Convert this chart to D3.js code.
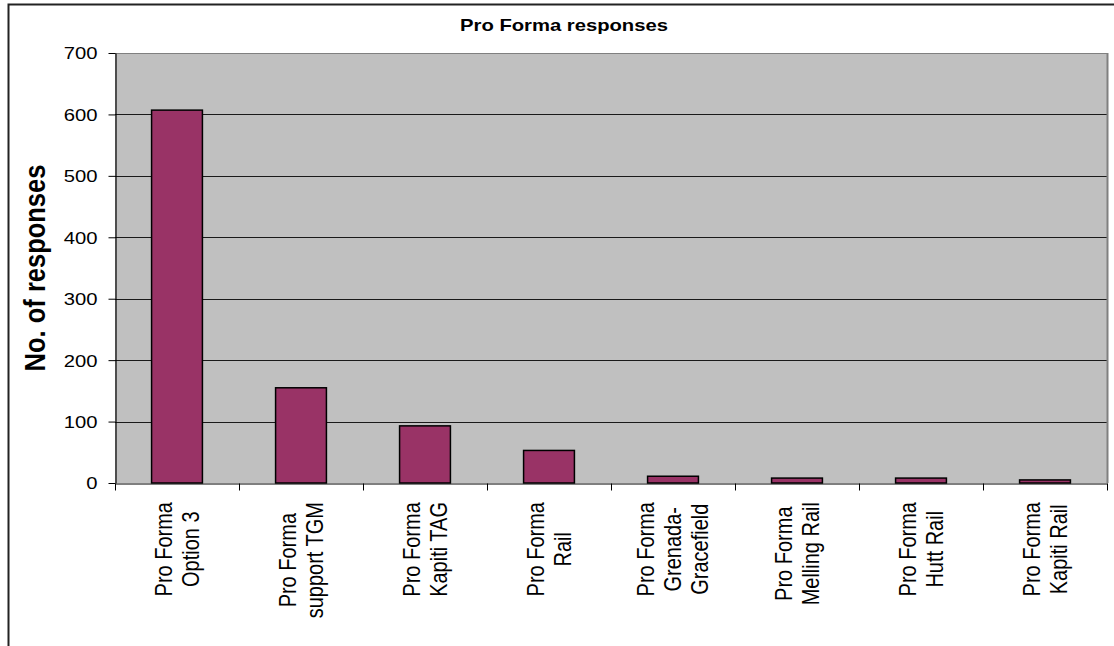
<!DOCTYPE html>
<html>
<head>
<meta charset="utf-8">
<script src="https://cdn.jsdelivr.net/npm/d3@7"></script>
<style>
  html, body { margin: 0; padding: 0; background: #ffffff; }
  svg { display: block; }
  text { font-family: "Liberation Sans", Arial, sans-serif; fill: #000; }
</style>
</head>
<body>
<svg id="chart" width="1114" height="646"></svg>
<script>
// Pro Forma submissions, counted by form type
const categories = [
  "Pro Forma Option 3",
  "Pro Forma support TGM",
  "Pro Forma Kapiti TAG",
  "Pro Forma Rail",
  "Pro Forma Grenada-Gracefield",
  "Pro Forma Melling Rail",
  "Pro Forma Hutt Rail",
  "Pro Forma Kapiti Rail"
];
const categoryLines = [
  ["Pro Forma", "Option 3"],
  ["Pro Forma", "support TGM"],
  ["Pro Forma", "Kapiti TAG"],
  ["Pro Forma", "Rail"],
  ["Pro Forma", "Grenada-", "Gracefield"],
  ["Pro Forma", "Melling Rail"],
  ["Pro Forma", "Hutt Rail"],
  ["Pro Forma", "Kapiti Rail"]
];
const responses = [607, 155, 93, 53, 11, 8, 8, 5];
const yTicks = [0, 100, 200, 300, 400, 500, 600, 700];
const chartTitle = "Pro Forma responses";
const yTitle = "No. of responses";

const svg = d3.select("#chart");
const plot = { left: 115, right: 1107, top: 53, bottom: 483 };
const sx = 1.19; // horizontal text stretch

// Outer chart frame (continues past the visible area)
svg.append("rect")
  .attr("x", 8.5).attr("y", 4.5)
  .attr("width", 1300).attr("height", 800)
  .attr("fill", "#fff")
  .attr("stroke", "#222").attr("stroke-width", 2);

const x = d3.scaleBand()
  .domain(categories)
  .range([plot.left, plot.right])
  .paddingInner(0.59)
  .paddingOuter(0.295);

const y = d3.scaleLinear().domain([0, 700]).range([plot.bottom, plot.top]);

// Plot area background
svg.append("rect")
  .attr("x", plot.left).attr("y", plot.top)
  .attr("width", plot.right - plot.left).attr("height", plot.bottom - plot.top)
  .attr("fill", "#c0c0c0");

// Horizontal gridlines
svg.append("g")
  .selectAll("line")
  .data(yTicks.filter(d => d > 0))
  .join("line")
  .attr("x1", plot.left).attr("x2", plot.right)
  .attr("y1", d => Math.round(y(d)) + 0.5).attr("y2", d => Math.round(y(d)) + 0.5)
  .attr("stroke", d => d === 700 ? "#808080" : "#1a1a1a")
  .attr("stroke-width", 1);

// Right border of the plot area
svg.append("line")
  .attr("x1", plot.right + 0.5).attr("x2", plot.right + 0.5)
  .attr("y1", plot.top).attr("y2", plot.bottom)
  .attr("stroke", "#808080").attr("stroke-width", 2);

// Bars
svg.append("g")
  .selectAll("rect")
  .data(categories.map((c, i) => ({ c, v: responses[i] })))
  .join("rect")
  .attr("x", d => x(d.c))
  .attr("y", d => y(d.v))
  .attr("width", x.bandwidth())
  .attr("height", d => y(0) - y(d.v))
  .attr("fill", "#993366")
  .attr("stroke", "#000")
  .attr("stroke-width", 1.5);

// Y axis
const yAxis = svg.append("g")
  .attr("transform", `translate(${plot.left + 0.5},0)`)
  .call(d3.axisLeft(y).tickValues(yTicks).tickSize(7).tickSizeOuter(0).tickFormat(d3.format("d")));
yAxis.select(".domain").attr("stroke", "#000").attr("stroke-width", 1.2);
yAxis.selectAll(".tick line").attr("stroke", "#000");
yAxis.selectAll(".tick text")
  .attr("font-size", 17)
  .attr("font-family", "'Liberation Sans', Arial, sans-serif")
  .attr("x", -18 / sx)
  .attr("dy", "0.35em")
  .attr("transform", `scale(${sx},1)`);

// X axis: tick marks on category boundaries
const boundary = d3.scaleLinear().domain([0, categories.length]).range([plot.left, plot.right]);
const xAxis = svg.append("g")
  .attr("transform", `translate(0,${plot.bottom + 0.5})`)
  .call(d3.axisBottom(boundary).tickValues(d3.range(categories.length + 1)).tickSize(7).tickSizeOuter(0).tickFormat(""));
xAxis.select(".domain").attr("stroke", "#000").attr("stroke-width", 1.2);
xAxis.selectAll(".tick line").attr("stroke", "#000");

// Category labels, rotated, one line per row
const labelTop = 502;
const lineStep = 22.7;
categories.forEach((c, i) => {
  const lines = categoryLines[i];
  const cx = x(c) + x.bandwidth() / 2 + 1;
  const g = svg.append("g");
  const t = g.append("text")
    .attr("font-size", 20)
    .attr("text-anchor", "middle");
  const n = lines.length;
  lines.forEach((ln, k) => {
    t.append("tspan")
      .attr("x", 0)
      .attr("y", (k - (n - 1) / 2) * lineStep + 5.9)
      .text(ln);
  });
  let maxLen = 0;
  t.selectAll("tspan").each(function () {
    maxLen = Math.max(maxLen, this.getComputedTextLength());
  });
  g.attr("transform", `translate(${cx},${labelTop + maxLen / 2}) scale(${sx},1) rotate(-90)`);
});

// Chart title
svg.append("g")
  .attr("transform", `translate(564,31) scale(${sx},1)`)
  .append("text")
  .attr("text-anchor", "middle")
  .attr("font-size", 17)
  .attr("font-weight", "bold")
  .text(chartTitle);

// Y axis title
svg.append("g")
  .attr("transform", `translate(45,${(plot.top + plot.bottom) / 2}) scale(${sx},1) rotate(-90)`)
  .append("text")
  .attr("text-anchor", "middle")
  .attr("font-size", 25.5)
  .attr("font-weight", "bold")
  .text(yTitle);
</script>
</body>
</html>
